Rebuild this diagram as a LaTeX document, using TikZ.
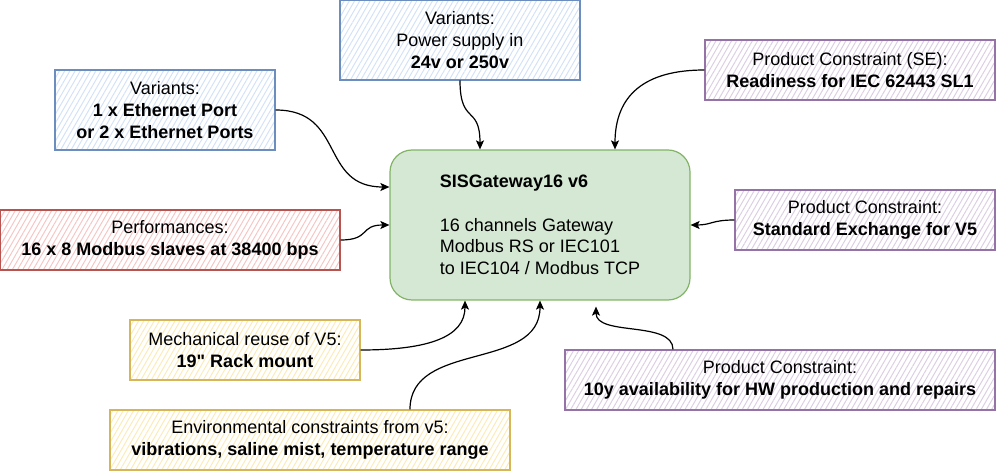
\documentclass[tikz,border=0pt]{standalone}
\usepackage{fontspec}
\setmainfont{Liberation Sans}[Ligatures=TeXOff]
\usetikzlibrary{arrows.meta, patterns.meta}
\definecolor{blueline}{HTML}{6C8EBF}
\definecolor{bluefill}{HTML}{D4E2F7}
\definecolor{redline}{HTML}{B85450}
\definecolor{redfill}{HTML}{F5C6C4}
\definecolor{greenline}{HTML}{82B366}
\definecolor{greenfill}{HTML}{D5E8D4}
\definecolor{yellowline}{HTML}{D6B656}
\definecolor{yellowfill}{HTML}{FCEBB8}
\definecolor{purpleline}{HTML}{9673A6}
\definecolor{purplefill}{HTML}{DCCFE3}

\begin{document}
\begin{tikzpicture}[x=1pt, y=1pt,
  >={Stealth[length=9pt, width=8pt, inset=2pt]},
  reqbox/.style={draw, line width=1.2pt, minimum height=60pt, align=center,
                 inner sep=0pt, font=\fontsize{18}{21.6}\selectfont, text=black},
  hatch/.style={pattern={Lines[angle=60, distance=4.5pt, line width=1pt]},
                pattern color=#1},
  link/.style={->, line width=1.2pt},
]

\useasboundingbox (0,0) rectangle (996,471);

% ============ Central product ============
\node[draw=greenline, fill=greenfill, line width=1.2pt, rounded corners=22pt,
      minimum width=300pt, minimum height=150pt, align=left,
      font=\fontsize{18}{21.6}\selectfont] (gateway) at (540,246) {%
  \textbf{SISGateway16 v6}\\
  \mbox{}\\
  16 channels Gateway\\
  Modbus RS or IEC101\\
  to IEC104 / Modbus TCP};

% ============ Variants (blue) ============
\node[reqbox, draw=blueline, hatch=bluefill, minimum width=240pt, minimum height=80pt]
  (power) at (460,431) {Variants:\\Power supply in\\\textbf{24v or 250v}};
\node[reqbox, draw=blueline, hatch=bluefill, minimum width=220pt, minimum height=80pt]
  (ethernet) at (165,361) {Variants:\\\textbf{1 x Ethernet Port}\\\textbf{or 2 x Ethernet Ports}};

% ============ Performances (red) ============
\node[reqbox, draw=redline, hatch=redfill, minimum width=340pt]
  (perf) at (170,231) {Performances:\\\textbf{16 x 8 Modbus slaves at 38400 bps}};

% ============ Reuse from v5 (yellow) ============
\node[reqbox, draw=yellowline, hatch=yellowfill, minimum width=230pt]
  (mech) at (245,121) {Mechanical reuse of V5:\\\textbf{19" Rack mount}};
\node[reqbox, draw=yellowline, hatch=yellowfill, minimum width=400pt]
  (env) at (310,31) {Environmental constraints from v5:\\\textbf{vibrations, saline mist, temperature range}};

% ============ Product constraints (purple) ============
\node[reqbox, draw=purpleline, hatch=purplefill, minimum width=290pt]
  (security) at (850,401) {Product Constraint (SE):\\\textbf{Readiness for IEC 62443 SL1}};
\node[reqbox, draw=purpleline, hatch=purplefill, minimum width=260pt]
  (exchange) at (865,251) {Product Constraint:\\\textbf{Standard Exchange for V5}};
\node[reqbox, draw=purpleline, hatch=purplefill, minimum width=430pt]
  (avail) at (780,91) {Product Constraint:\\\textbf{10y availability for HW production and repairs}};

% ============ Links into the gateway ============
\draw[link] (ethernet.east) .. controls +(70,0) and +(-70,0) .. ([yshift=38pt]gateway.west);
\draw[link] (perf.east) .. controls +(30,0) and +(-30,0) .. (gateway.west);
\draw[link] (power.south) .. controls +(0,-45) and +(0,45) .. ([xshift=-60pt]gateway.north);
\draw[link] (security.west) .. controls +(-60,0) and +(0,54) .. ([xshift=75pt]gateway.north);
\draw[link] (exchange.west) .. controls +(-23,0) and +(21,0) .. (gateway.east);
\draw[link] (mech.east) .. controls +(69,0) and +(0,-36) .. ([xshift=-75pt]gateway.south);
\draw[link] ([xshift=100pt]env.north) .. controls +(0,69) and +(0,-71) .. (gateway.south);
\draw[link] ([xshift=-107pt]avail.north) .. controls +(0,29) and +(0,-30)
  .. ([xshift=56pt, yshift=-6pt]gateway.south);

\end{tikzpicture}
\end{document}
